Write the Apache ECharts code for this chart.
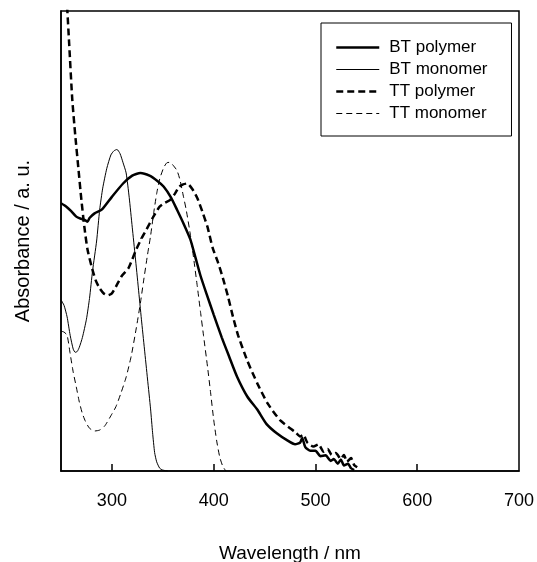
<!DOCTYPE html>
<html>
<head>
<meta charset="utf-8">
<script src="https://cdn.jsdelivr.net/npm/echarts@6/dist/echarts.min.js"></script>
<style>
html,body{margin:0;padding:0;background:#fff;}
#chart{width:537px;height:562px;}
</style>
</head>
<body>
<div id="chart"></div>
<script>
// Series names
const seriesNames = ['BT polymer', 'BT monomer', 'TT polymer', 'TT monomer'];
// Axis ticks
const xTicks = [300, 400, 500, 600];
const xLabels = [300, 400, 500, 600, 700];

// BT polymer
const btPolyWl = [250,255,260,265,270,274,276,278,283,290,300,311,320,328,337,345,351,358,364,371,377,382,387,393,400,408,415,423,433,443,452,462,472,480,485,487,490,495,500,505,510,515,518,522,525,528,532,535,538];
const btPolyA  = [58.2,57.5,56.5,55.3,54.8,54.5,54.2,55,56,56.8,59.6,62.5,64.2,64.8,64.2,63,61.8,59.5,56.8,53.5,50.4,46.5,42.5,38.5,34,29,25,20.5,16.2,13.3,10.2,8.2,6.7,5.8,6.2,7.2,5.2,4.4,4.4,3.2,3.4,2.2,2.6,1.6,2.5,1.2,1.6,0.6,0.2];

// BT monomer
const btMonoWl = [250,253,256,259,262,264,266,268,271,275,278,281,285,288,291,295,299,302,305,308,311,314,317,320,323,326,329,332,335,338,340,342,344,347,350,355];
const btMonoA  = [37.2,36,33.5,29.5,26.5,25.8,26,26.9,29,33,37.5,43.5,50,56.8,61.5,65.8,68.7,69.6,69.9,69,67,64.8,59.5,53,46.5,39.8,33,26.5,20,13.5,8.3,4,2,0.6,0.2,0];

// TT polymer
const ttPolyWl = [256,258,261,264,267,270,273,276,280,284,288,292,296,300,305,310,316,320,324,329,334,340,347,352,357,362,366,370,374,379,384,389,394,399,404,409,414,419,424,433,443,453,465,475,480,485,488,492,498,503,508,512,516,520,525,528,531,535,538,541];
const ttPolyA  = [101,93,81,73,66,59,53,48.2,44.5,41.5,39.7,38.6,38.2,38.6,40.5,42.5,44,46,48.2,50.5,52.5,55,57.5,58.3,58.9,60.3,61.8,62.3,62.5,61.3,59.3,56.3,53,48.5,45.5,42,38,33.5,29.5,24,19,14.7,11.1,9.3,8.5,7.5,7.9,6.2,5.3,5.8,4.2,4.8,3.5,3.9,2.6,3.5,2,2.8,1.3,0.8];

// TT monomer
const ttMonoWl = [250,253,256,259,262,265,268,271,274,278,283,288,293,299,304,309,314,319,324,328,331,335,338,341,344,347,351,354,357,360,364,367,370,373,377,380,384,387,390,394,397,400,403,406,409,412];
const ttMonoA  = [30.4,30.2,29.5,25.5,21.5,18.3,15,12.5,10.8,9.3,8.7,8.9,9.8,12,14,17,20.4,25,31.1,36.5,41.1,47,51.1,56,60.3,63.5,66,67,67.1,66.5,65.3,63.2,60,56.8,51.5,46.8,40,34.7,29.5,22.6,17,11.2,6.5,3,1,0];

function pairs(xs, ys){ return xs.map((x,i)=>[x, ys[i]]); }

const FONT = "'Liberation Sans', Arial, sans-serif";
const chart = echarts.init(document.getElementById('chart'), null, {renderer:'canvas'});

const widths = [2.5, 1, 2.5, 1];
const dashes = ['solid', 'solid', [7, 4], [6, 4]];

function lineSeries(i, data){
  return {
    name: seriesNames[i], type: 'line', data: data, symbol: 'none', smooth: 0.2,
    clip: true, animation: false,
    lineStyle: {color: '#000', width: widths[i], type: dashes[i]},
    itemStyle: {color: '#000'}
  };
}

chart.setOption({
  backgroundColor: '#fff',
  animation: false,
  textStyle: {fontFamily: FONT, color: '#000'},
  grid: {left: 61, right: 18, top: 11, bottom: 91, show: true, borderColor: '#000', borderWidth: 1.5, containLabel: false, outerBoundsMode: 'none'},
  legend: {
    orient: 'vertical', left: 321, top: 23,
    data: seriesNames.map((n, i) => ({name: n, lineStyle: {width: widths[i], type: dashes[i], color: '#000'}})),
    itemWidth: 43, itemHeight: 14, itemGap: 5,
    padding: [16, 24, 14, 14],
    backgroundColor: '#fff', borderColor: '#000', borderWidth: 1,
    itemStyle: {opacity: 0},
    textStyle: {fontFamily: FONT, fontSize: 17, color: '#000', padding: [0,0,0,5]},
    selectedMode: false
  },
  xAxis: {
    type: 'value', min: 250, max: 700,
    name: 'Wavelength / nm', nameLocation: 'middle', nameGap: 73,
    nameTextStyle: {fontFamily: FONT, fontSize: 19, color: '#000'},
    axisLine: {show: true, lineStyle: {color: '#000', width: 1.5}},
    axisTick: {show: true, inside: true, length: 7, customValues: xTicks, lineStyle: {color: '#000', width: 1.5}},
    axisLabel: {show: true, customValues: xLabels, margin: 21, fontSize: 18, fontFamily: FONT, color: '#000'},
    splitLine: {show: false}
  },
  yAxis: {
    type: 'value', min: 0, max: 100,
    name: 'Absorbance / a. u.', nameLocation: 'middle', nameGap: 28,
    nameTextStyle: {fontFamily: FONT, fontSize: 20, color: '#000'},
    axisLine: {show: true, lineStyle: {color: '#000', width: 1.5}},
    axisTick: {show: false},
    axisLabel: {show: false},
    splitLine: {show: false}
  },
  series: [
    lineSeries(0, pairs(btPolyWl, btPolyA)),
    lineSeries(1, pairs(btMonoWl, btMonoA)),
    lineSeries(2, pairs(ttPolyWl, ttPolyA)),
    lineSeries(3, pairs(ttMonoWl, ttMonoA))
  ]
});
</script>
</body>
</html>
